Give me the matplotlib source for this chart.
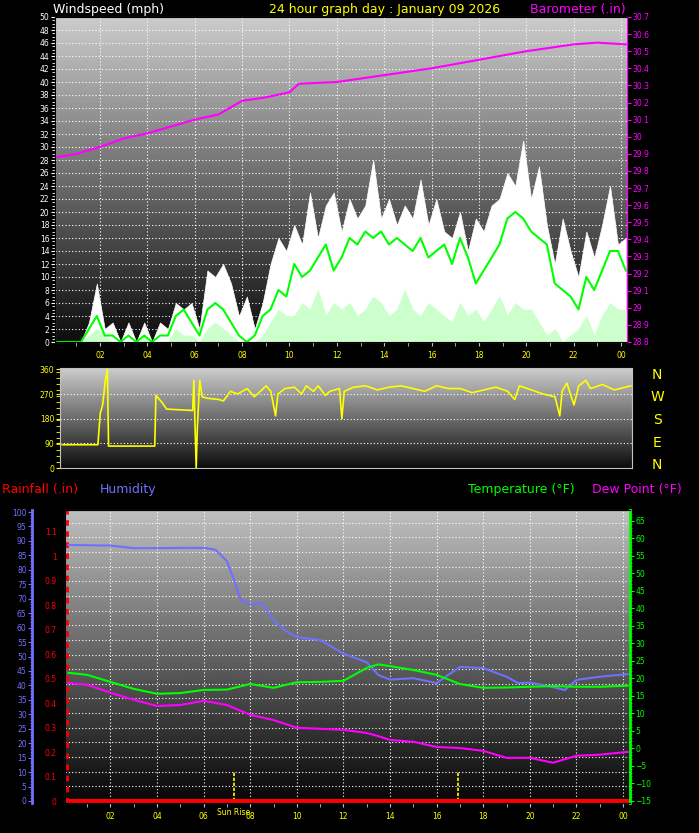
import numpy as np
import matplotlib
matplotlib.use('Agg')
import matplotlib.pyplot as plt

# ---- data ----
# wind, 20 minute steps from 00:12
gust = [0,0,0, 0,3,9, 2,3,0, 3,0,3, 0,3,2, 6,5,6, 2,11,10, 12,9,4, 7,2,6,
        12,16,14, 18,15,23, 16,21,23, 17,22,19, 21,28,19, 22,18,21, 19,25,18,
        22,17,16, 20,14,19, 17,21,22, 26,24,31, 22,27,18, 12,19,14, 10,17,13,
        18,24,15, 16]
avg = [0,0,0, 0,2,4, 1,1,0, 1,0,1, 0,1,1, 4,5,3, 1,5,6, 5,3,1, 0,1,4,
       5,8,7, 12,10,11, 13,15,11, 13,16,15, 17,16,17, 15,16,15, 14,16,13,
       14,15,12, 16,13,9, 11,13,15, 19,20,19, 17,16,15, 9,8,7, 5,10,8,
       11,14,14, 11]
low = [0,0,0, 0,1,2, 1,0,0, 0,0,1, 0,0,0, 2,1,1, 0,2,3, 2,1,0, 0,0,1,
       3,5,4, 4,6,5, 8,4,6, 5,6,4, 5,7,6, 4,5,8, 5,4,6, 5,4,3, 6,4,5,
       3,5,7, 4,6,5, 5,3,1, 2,0,1, 2,4,1, 4,6,5, 5]
wind_t = [0.2 + i / 3 for i in range(len(gust))]

baro_t = [0.2, 1, 2, 3, 4, 5, 6, 7, 8, 9, 10, 10.4, 12, 14, 16, 18, 20, 22, 23, 24.2]
baro = [29.88, 29.90, 29.94, 29.99, 30.02, 30.06, 30.10, 30.13, 30.21, 30.23, 30.26,
        30.31, 30.32, 30.36, 30.40, 30.45, 30.50, 30.54, 30.55, 30.54]

dir_t = [0.2, 1.7, 1.8, 1.9, 2.0, 2.1, 2.15, 4.1, 4.15, 4.4, 4.6, 5.7, 5.75, 5.85, 5.9,
         6.0, 6.1, 6.3, 6.8, 7.0, 7.3, 7.6, 8.0, 8.3, 8.5, 8.8, 9.0, 9.2, 9.3, 9.6,
         10.0, 10.3, 10.5, 10.8, 11.0, 11.3, 11.5, 11.9, 12.0, 12.1, 12.5, 13.0, 13.5,
         14.0, 14.5, 15.0, 15.5, 16.0, 16.5, 17.0, 17.5, 18.0, 18.5, 19.0, 19.3, 19.5,
         20.0, 20.5, 21.0, 21.2, 21.3, 21.5, 21.8, 22.0, 22.3, 22.5, 23.0, 23.5, 24.2]
wdir = [85, 85, 200, 230, 310, 360, 80, 80, 265, 240, 215, 210, 320, 0, 150,
        320, 260, 255, 250, 245, 280, 270, 290, 260, 275, 300, 280, 190, 270, 290,
        295, 270, 300, 280, 300, 265, 280, 290, 180, 280, 295, 300, 285, 295, 300,
        290, 280, 300, 290, 290, 275, 285, 295, 280, 250, 300, 285, 270, 260, 190,
        280, 310, 230, 300, 320, 290, 305, 285, 300]

th_t = [0.2, 1, 2, 3, 4, 5, 6, 7, 8, 9, 10, 11, 12, 13, 13.5, 14, 15, 16, 17, 18,
        19, 20, 21, 22, 23, 24.2]
temp = [21.6, 21.0, 19.0, 17.0, 15.6, 15.8, 16.7, 16.8, 18.4, 17.3, 18.9, 19.0,
        19.3, 23.0, 24.0, 23.5, 22.4, 21.0, 18.4, 17.3, 17.4, 17.6, 17.8, 17.6, 17.6, 17.9]
dew = [18.7, 18.2, 15.9, 13.9, 12.1, 12.4, 13.6, 12.4, 9.6, 8.1, 5.9, 5.6,
       5.3, 4.4, 3.5, 2.4, 1.9, 0.4, 0.1, -0.7, -2.7, -2.7, -4.1, -2.1, -1.8, -1.0]
hum_t = [0.2, 1, 2, 3, 4, 5, 6, 6.5, 7, 7.3, 7.6, 8, 8.5, 9, 9.5, 10, 11, 12, 13,
         13.5, 14, 15, 16, 16.5, 17, 18, 19, 19.5, 20, 21, 21.5, 22, 23, 24.2]
hum = [88.6, 88.5, 88.4, 87.5, 87.5, 87.6, 87.6, 87.0, 83, 76.5, 69.6, 68, 68.5,
       62.6, 59, 56.7, 55.7, 51, 48, 43.6, 42, 42.5, 40.8, 43.6, 46.4, 46, 43,
       40.8, 41, 39.4, 38.4, 41.9, 43, 43.9]
rain_t = [0.05, 24.3]
rain = [0, 0]

sunrise = 7.3
sunset = 16.9
hour_labels = ['02', '04', '06', '08', '10', '12', '14', '16', '18', '20', '22', '00']

YEL = '#ffff00'
MAG = '#ff00ff'
GRN = '#00ff00'
BLU = '#7070ff'
RED = '#ff0000'
FS = 5.5

fig = plt.figure(figsize=(6.99, 8.33), dpi=100, facecolor='black')


def px_axes(x0, y0, x1, y1):
    return fig.add_axes([x0 / 699, 1 - y1 / 833, (x1 - x0) / 699, (y1 - y0) / 833])


def background(ax, top=0.8, bottom=0.05):
    grad = np.linspace(bottom, top, 256).reshape(-1, 1)
    ax.imshow(grad, cmap='gray', vmin=0, vmax=1, aspect='auto', origin='lower',
              extent=[0, 1, 0, 1], transform=ax.transAxes, zorder=0)
    ax.set_facecolor('black')
    for s in ax.spines.values():
        s.set_color('#c0c0c0')


def xhours(ax, xmin, xmax, labels=True, grid=True):
    ax.set_xlim(xmin, xmax)
    ax.set_xticks(range(2, 25, 2))
    ax.set_xticks(range(1, 25), minor=True)
    if labels:
        ax.set_xticklabels(hour_labels)
    else:
        ax.set_xticklabels([])
    ax.tick_params(axis='x', which='both', colors='#c0c0c0', labelcolor=YEL,
                   labelsize=FS, length=3)
    if grid:
        for h in range(2, 25, 2):
            ax.axvline(h, color='white', ls=(0, (1, 2)), lw=0.8, zorder=1)


# ---- top: wind & barometer ----
ax1 = px_axes(55, 17, 627, 342)
background(ax1)
xhours(ax1, 0.1, 24.25)
ax1.set_ylim(0, 50)
ax1.set_yticks(range(0, 51, 2))
ax1.set_yticks(np.arange(0, 50, 0.5), minor=True)
ax1.tick_params(axis='y', which='both', colors='white', labelsize=FS, length=3, pad=1)
ax1.tick_params(axis='y', which='minor', length=2)
for v in range(2, 50, 2):
    ax1.axhline(v, color='white', ls=(0, (1, 2)), lw=0.8, zorder=1)
ax1.fill_between(wind_t, gust, color='white', lw=0.5, ec='white', zorder=2)
ax1.fill_between(wind_t, low, color='#ccffcc', lw=0.5, ec='#ccffcc', zorder=3)
ax1.plot(wind_t, avg, color=GRN, lw=1.5, zorder=4)

ax1b = ax1.twinx()
ax1b.set_ylim(28.8, 30.7)
bt = np.round(np.arange(28.8, 30.71, 0.1), 1)
ax1b.set_yticks(bt)
ax1b.set_yticklabels([('%g' % v) for v in bt])
ax1b.tick_params(axis='y', colors=MAG, labelsize=FS, length=3, pad=1)
ax1b.spines['right'].set_color(MAG)
ax1b.plot(baro_t, baro, color=MAG, lw=1.5, zorder=5)

fig.text(53 / 699, 1 - 10 / 833, 'Windspeed (mph)', color='white', fontsize=9, va='center')
fig.text(385 / 699, 1 - 10 / 833, '24 hour graph day : January 09 2026', color=YEL,
         fontsize=9, va='center', ha='center')
fig.text(530 / 699, 1 - 10 / 833, 'Barometer (.in)', color=MAG, fontsize=9, va='center')

# ---- middle: wind direction ----
ax2 = px_axes(60, 368, 632, 468)
background(ax2)
xhours(ax2, 0.1, 24.25, labels=False, grid=False)
ax2.tick_params(axis='x', which='both', length=0)
ax2.set_ylim(0, 365)
ax2.set_yticks([0, 90, 180, 270, 360])
ax2.set_yticks(range(0, 361, 22), minor=True)
ax2.tick_params(axis='y', which='both', colors=YEL, labelsize=FS, length=3, pad=1)
for v in [90, 180, 270]:
    ax2.axhline(v, color='white', ls=(0, (1, 2)), lw=0.8, zorder=1)
ax2.plot(dir_t, wdir, color=YEL, lw=1.2, zorder=3)
for i, c in enumerate(['N', 'W', 'S', 'E', 'N']):
    fig.text(657 / 699, 1 - (375 + i * 22.5) / 833, c, color=YEL, fontsize=10,
             ha='center', va='center')

# ---- bottom: rain, humidity, temperature ----
ax3 = px_axes(65, 510, 630, 803)
background(ax3, top=0.75, bottom=0.02)
xhours(ax3, 0.05, 24.3)
ax3.set_ylim(-0.008, 1.188)
ax3.set_yticks(np.round(np.arange(0, 1.11, 0.1), 1))
ax3.set_yticklabels(['0', '0.1', '0.2', '0.3', '0.4', '0.5', '0.6', '0.7', '0.8',
                     '0.9', '1', '1.1'])
ax3.tick_params(axis='y', colors=RED, labelsize=FS, length=0, pad=6)
ax3.axvline(0.12, color=RED, ls=(0, (2, 2)), lw=2, zorder=6)
for v in range(5, 101, 5):
    ax3.axhline(v * 0.01196, color='white', ls=(0, (1, 2)), lw=0.8, zorder=1)
ax3.plot(rain_t, rain, color=RED, lw=3, zorder=6)
ax3.plot([sunrise, sunrise], [0, 0.12], color=YEL, ls=(0, (2, 1)), lw=1.2, zorder=5)
ax3.plot([sunset, sunset], [0, 0.12], color=YEL, ls=(0, (2, 1)), lw=1.2, zorder=5)
ax3.text(sunrise, -0.045, 'Sun Rise', color=YEL, fontsize=FS, ha='center', va='center',
         clip_on=False)

ax3h = ax3.twinx()
ax3h.spines['left'].set_position(('axes', -0.058))
ax3h.spines['left'].set_visible(True)
ax3h.spines['left'].set_color(BLU)
ax3h.spines['left'].set_linewidth(2)
ax3h.spines['right'].set_visible(False)
ax3h.yaxis.set_ticks_position('left')
ax3h.set_ylim(-0.7, 100.7)
ax3h.set_yticks(range(0, 101, 5))
ax3h.set_yticks(range(0, 101, 1), minor=True)
ax3h.tick_params(axis='y', which='both', colors=BLU, labelsize=FS, length=3, pad=1)
ax3h.tick_params(axis='y', which='minor', length=1.5)
ax3h.plot(hum_t, hum, color=BLU, lw=1.5, zorder=4)

ax3t = ax3.twinx()
ax3t.set_ylim(-15.6, 68.1)
ax3t.set_yticks(range(-15, 66, 5))
ax3t.set_yticks(range(-15, 68, 1), minor=True)
ax3t.spines['right'].set_color(GRN)
ax3t.spines['right'].set_linewidth(2)
ax3t.tick_params(axis='y', which='both', colors=GRN, labelsize=FS, length=3, pad=1)
ax3t.tick_params(axis='y', which='minor', length=1.5)
ax3t.plot(th_t, temp, color=GRN, lw=1.5, zorder=4)
ax3t.plot(th_t, dew, color=MAG, lw=1.5, zorder=4)

fig.text(2 / 699, 1 - 490 / 833, 'Rainfall (.in)', color=RED, fontsize=9, va='center')
fig.text(100 / 699, 1 - 490 / 833, 'Humidity', color=BLU, fontsize=9, va='center')
fig.text(468 / 699, 1 - 490 / 833, 'Temperature (°F)', color=GRN, fontsize=9, va='center')
fig.text(592 / 699, 1 - 490 / 833, 'Dew Point (°F)', color=MAG, fontsize=9, va='center')

fig.savefig('out.png', dpi=100, facecolor='black')
